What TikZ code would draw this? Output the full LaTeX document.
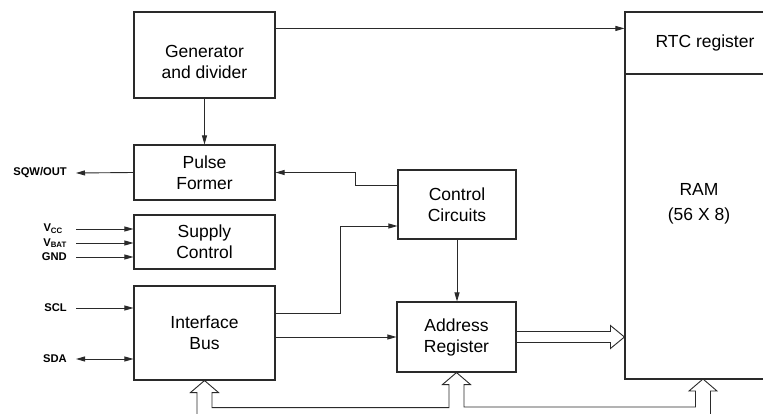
\documentclass[tikz,border=0pt]{standalone}
\usepackage{fontspec}
\setmainfont{Liberation Sans}
\usetikzlibrary{arrows.meta,calc}
\definecolor{ink}{HTML}{2A2A2A}
\begin{document}
\begin{tikzpicture}[x=1pt,y=-1pt,
  box/.style={draw=ink,line width=1.1pt,rectangle,inner sep=0pt,align=center,
    font=\fontsize{17.5}{21}\selectfont},
  txt/.style={inner sep=0pt,align=center,font=\fontsize{17.5}{21}\selectfont},
  pin/.style={inner sep=0pt,anchor=east,font=\bfseries\fontsize{11.2}{13}\selectfont},
  conn/.style={draw=ink,line width=0.9pt},
  arr/.style={conn,-{Triangle[length=9pt,width=5pt]}},
  darr/.style={conn,{Triangle[length=9pt,width=5pt]}-{Triangle[length=9pt,width=5pt]}},
  bus/.style={draw=ink,line width=0.9pt,line join=miter}]
\useasboundingbox (0,0) rectangle (763,414);
\clip (0,0) rectangle (763,414);
\fill[white] (0,0) rectangle (763,414);

% boxes
\node[box,minimum width=141pt,minimum height=86pt] (gen) at (204.5,55) {};
\node[txt] (gentxt) at (204.5,62) {Generator\\and divider};
\node[box,minimum width=141pt,minimum height=55pt] (pulse) at (204.5,172.5) {Pulse\\Former};
\node[box,minimum width=141pt,minimum height=54pt] (supply) at (204.5,242) {Supply\\Control};
\node[box,minimum width=141pt,minimum height=94pt] (iface) at (204.5,333) {Interface\\Bus};
\node[box,minimum width=118pt,minimum height=69pt] (ctrl) at (457,204.5) {Control\\Circuits};
\node[box,minimum width=119pt,minimum height=70pt] (addr) at (456.5,337) {Address\\Register};
\node[box,minimum width=160pt,minimum height=62pt] (rtc) at (705,43) {RTC register};
\node[box,minimum width=148pt,minimum height=305pt] (ram) at (699,226.5) {};
\node[txt] (ramtxt) at (699,204) {RAM\\[4pt](56 X 8)};

% pin labels and free ends
\node[pin] (sqw) at (67,173) {SQW/OUT};
\node[pin] (vcc) at (63,229) {V\textsubscript{CC}};
\node[pin] (vbat) at (67,243) {V\textsubscript{BAT}};
\node[pin] (gnd) at (67,257) {GND};
\node[pin] (scl) at (67,308) {SCL};
\node[pin] (sda) at (67,359) {SDA};
\coordinate (sqwend) at (76,173);
\coordinate (vccst) at (76,229);
\coordinate (vbatst) at (76,243);
\coordinate (gndst) at (76,257);
\coordinate (sclst) at (76,308);
\coordinate (sdaend) at (76,359);
\coordinate (ramin) at (703,379);

% connectors
\draw[arr] ([yshift=-17pt]gen.north east) -- ([yshift=-17pt]rtc.north west);
\draw[arr] (gen.south) -- (pulse.north);
\draw[arr] (pulse.west) -- (sqwend);
\draw[arr] ([yshift=19.5pt]ctrl.west) -- ++(-42,0) |- (pulse.east);
\draw[arr] (vccst) -- (supply.west |- vccst);
\draw[arr] (vbatst) -- (supply.west |- vbatst);
\draw[arr] (gndst) -- (supply.west |- gndst);
\draw[arr] (sclst) -- (iface.west |- sclst);
\draw[darr] (sdaend) -- (iface.west |- sdaend);
\draw[arr] ([yshift=20pt]iface.east) -- ++(65,0) |- ([yshift=-21.5pt]ctrl.west);
\draw[arr] (iface.east |- addr.west) -- (addr.west);
\draw[arr] (ctrl.south) -- (ctrl.south |- addr.north);

% hollow arrow address -> RAM
\draw[bus] ($(addr.east)+(0,-5.5)$) -- ($(ram.west|-addr.east)+(-14,-5.5)$) -- ++(0,-6)
  -- (ram.west|-addr.east) -- ++(-14,11.5) -- ++(0,-6) -- ($(addr.east)+(0,5.5)$);

% bottom bus
\draw[bus] ($(iface.south)+(-7.5,34)$) -- ++(0,-22) -- ++(-6.5,0) -- (iface.south)
  -- ++(14,12) -- ++(-6.5,0) |- ($(addr.south)+(-7.5,35)$) -- ++(0,-23) -- ++(-6.5,0)
  -- (addr.south) -- ++(14,12) -- ++(-6.5,0) |- ($(ramin)+(-7.5,28)$) -- ++(0,-16)
  -- ++(-6.5,0) -- (ramin) -- ++(14,12) -- ++(-6.5,0) -- ++(0,23);
\end{tikzpicture}
\end{document}
